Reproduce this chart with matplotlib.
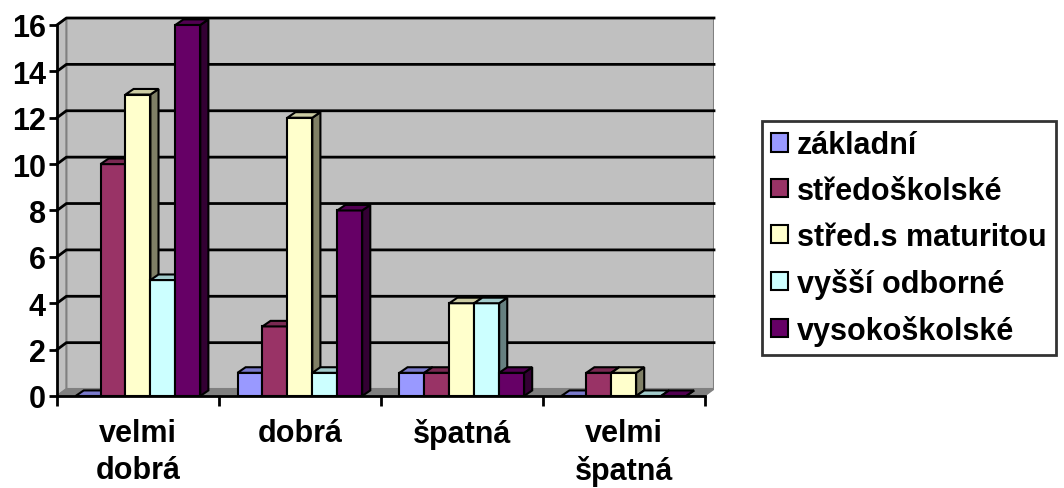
import matplotlib.pyplot as plt
from matplotlib.patches import Polygon
from matplotlib.colors import to_rgb
import numpy as np

plt.rcParams['font.family'] = ['Liberation Sans', 'DejaVu Sans']
plt.rcParams['font.weight'] = 'bold'

# Data
categories = ['velmi\ndobrá', 'dobrá', 'špatná', 'velmi\nšpatná']
series = ['základní', 'středoškolské', 'střed.s maturitou', 'vyšší odborné', 'vysokoškolské']
zakladni = [0, 1, 1, 0]
stredoskolske = [10, 3, 1, 1]
stred_maturita = [13, 12, 4, 1]
vyssi_odborne = [5, 1, 4, 0]
vysokoskolske = [16, 8, 1, 0]
values = [zakladni, stredoskolske, stred_maturita, vyssi_odborne, vysokoskolske]
colors = ['#9999FF', '#993366', '#FFFFCC', '#CCFFFF', '#660066']

ymax = 16
# 3D depth offsets (data units)
wall_dx, wall_dy = 0.058, 0.30
bar_dx, bar_dy = 0.05, 0.24
bar_w = 0.154

fig = plt.figure(figsize=(10.64, 4.89), dpi=100)
W, H = 1064, 489
ax = fig.add_axes([57 / W, (H - 397) / H, (714 - 57) / W, (397 - 19) / H])
ax.set_xlim(0, len(categories) + wall_dx)
ax.set_ylim(0, ymax + wall_dy)
ax.set_facecolor('none')

ncat = len(categories)
# back wall
ax.add_patch(Polygon([(wall_dx, wall_dy), (ncat + wall_dx, wall_dy),
                      (ncat + wall_dx, ymax + wall_dy), (wall_dx, ymax + wall_dy)],
                     closed=True, fc='#C0C0C0', ec='#808080', lw=1.5, zorder=0))
# left wall
ax.add_patch(Polygon([(0, 0), (wall_dx, wall_dy), (wall_dx, ymax + wall_dy), (0, ymax)],
                     closed=True, fc='#C0C0C0', ec='#808080', lw=1.5, zorder=0))
# floor
ax.add_patch(Polygon([(0, 0), (ncat, 0), (ncat + wall_dx, wall_dy), (wall_dx, wall_dy)],
                     closed=True, fc='#808080', ec='#808080', lw=1, zorder=0.5))

# gridlines on walls
for v in range(2, ymax + 1, 2):
    ax.plot([0, wall_dx, ncat + wall_dx], [v, v + wall_dy, v + wall_dy],
            color='black', lw=2, zorder=1, clip_on=False)

# bars
group_w = bar_w * len(series)
z = 2
for c in range(ncat):
    x0 = c + (1 - group_w) / 2
    for i, (vals, col) in enumerate(zip(values, colors)):
        v = vals[c]
        x = x0 + i * bar_w
        rgb = np.array(to_rgb(col))
        ax.bar(x, v, width=bar_w, align='edge', color=col, edgecolor='black',
               linewidth=1.5, zorder=z)
        top = [(x, v), (x + bar_w, v), (x + bar_w + bar_dx, v + bar_dy), (x + bar_dx, v + bar_dy)]
        ax.add_patch(Polygon(top, closed=True, fc=rgb * 0.8, ec='black', lw=1.5, zorder=z))
        side = [(x + bar_w, 0), (x + bar_w + bar_dx, bar_dy),
                (x + bar_w + bar_dx, v + bar_dy), (x + bar_w, v)]
        ax.add_patch(Polygon(side, closed=True, fc=rgb * 0.5, ec='black', lw=1.5, zorder=z - 0.5))
        z += 1

# axes styling
for s in ['top', 'right']:
    ax.spines[s].set_visible(False)
ax.spines['left'].set_bounds(0, ymax)
ax.spines['bottom'].set_bounds(0, ncat)
for s in ['left', 'bottom']:
    ax.spines[s].set_linewidth(2)
    ax.spines[s].set_zorder(50)

ax.set_yticks(range(0, ymax + 1, 2))
ax.tick_params(axis='y', length=6, width=2, pad=2, labelsize=22)
ax.set_xticks(np.arange(ncat) + 0.5)
ax.set_xticklabels(categories, fontsize=22, linespacing=1.3)
ax.set_xticks(range(ncat + 1), minor=True)
ax.tick_params(axis='x', which='major', length=0, pad=16)
ax.tick_params(axis='x', which='minor', length=7, width=2)

# legend
handles = [plt.Rectangle((0, 0), 1, 1, fc=col, ec='black', lw=1.5) for col in colors]
leg = fig.legend(handles, series, loc='upper left', bbox_to_anchor=(762 / W, 1 - 122 / H),
                 fontsize=22, frameon=True, fancybox=False, handlelength=0.55,
                 handleheight=0.55, handletextpad=0.3, labelspacing=0.52,
                 borderpad=0.3, borderaxespad=0)
leg.get_frame().set_edgecolor('black')
leg.get_frame().set_linewidth(2)

fig.savefig('out.png', dpi=100)
